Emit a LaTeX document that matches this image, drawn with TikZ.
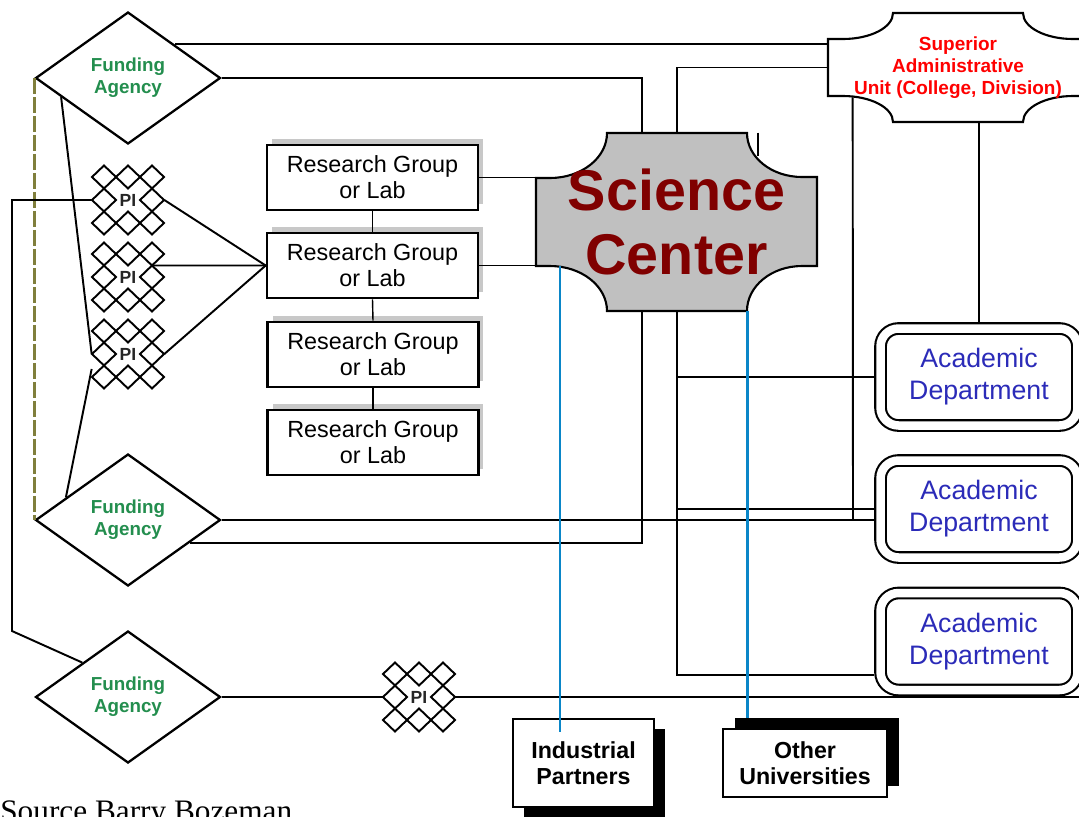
\documentclass[tikz,border=0pt]{standalone}
\usepackage{fontspec}
\setmainfont{Liberation Sans}
\newfontfamily\serifsource{Liberation Serif}
\usetikzlibrary{shapes.geometric, shadows, calc}
\definecolor{agency-green}{HTML}{238E4E}
\definecolor{center-red}{HTML}{800000}
\definecolor{center-gray}{HTML}{C0C0C0}
\definecolor{unit-red}{HTML}{FF0000}
\definecolor{dept-blue}{HTML}{2B2BB8}
\definecolor{link-blue}{HTML}{0A86C8}
\definecolor{olive-dash}{HTML}{807F3C}
\definecolor{shadow-gray}{HTML}{C8C8C8}

\begin{document}
\begin{tikzpicture}[x=0.02cm, y=-0.02cm,
        every node/.style={align=center, inner sep=0pt},
        link/.style={line width=1.1pt},
        thin link/.style={line width=0.8pt},
        feed/.style={line width=1.7pt, draw=link-blue},
        lattice/.style={line width=1.1pt},
        agency/.style={diamond, draw, line width=1.3pt, fill=white, aspect=1.4,
            minimum width=3.7cm, minimum height=2.64cm, text=agency-green,
            font=\bfseries\fontsize{10.7}{12.5}\selectfont},
        labbox/.style={draw, line width=1.5pt, fill=white,
            minimum width=4.22cm, minimum height=1.3cm,
            font=\fontsize{13.3}{14.8}\selectfont,
            general shadow={fill=shadow-gray, shadow xshift=0.1cm, shadow yshift=0.12cm}},
        deptbox/.style={draw, line width=1.2pt, double, double distance=0.17cm,
            rounded corners=0.36cm, minimum width=3.94cm, minimum height=1.94cm,
            outer sep=0.127cm, text=dept-blue,
            font=\fontsize{15.2}{18.2}\selectfont},
        partnerbox/.style={draw, line width=1.3pt, fill=white,
            font=\bfseries\fontsize{13.2}{14.8}\selectfont},
        pitext/.style={minimum width=1.44cm, minimum height=1.38cm, text=black!85,
            font=\bfseries\fontsize{10}{12}\selectfont}]
      \useasboundingbox (0,0) rectangle (1079,816);
      \clip (0,0) rectangle (1079,816);

      % funding agencies
      \node[agency] (fa1) at (128,78) {Funding\\Agency};
      \node[agency] (fa2) at (128,520) {Funding\\Agency};
      \node[agency] (fa3) at (128,697) {Funding\\Agency};

      % principal investigators
      \foreach \n/\cx/\cy in {pi1/128/200, pi2/128/277, pi3/128/354, pi4/419/697} {
        \node[pitext] (\n) at (\cx,\cy) {PI};
        \foreach \dx/\dy in {-1/-1, 0/-1, 1/-1, -1/0, 1/0, -1/1, 0/1, 1/1}
          \draw[lattice] ({\cx+24*\dx},{\cy+23*\dy}) +(-12,0) -- +(0,-11.5)
                -- +(12,0) -- +(0,11.5) -- cycle;
      }

      % research groups
      \node[labbox] (rg1) at (372.5,177.5) {Research Group\\or Lab};
      \node[labbox] (rg2) at (372.5,265.5) {Research Group\\or Lab};
      \node[labbox] (rg3) at (373,354.5) {Research Group\\or Lab};
      \node[labbox] (rg4) at (373,442.5) {Research Group\\or Lab};

      % science center
      \draw[line width=1.2pt, fill=center-gray]
            (607,133) -- (747,133)
            .. controls (747,157.3) and (771.6,177) .. (802,177)
            -- (817,177) -- (817,266) -- (802,266)
            .. controls (771.6,266) and (747,286.1) .. (747,311)
            -- (607,311)
            .. controls (607,286.1) and (581.5,266) .. (550,266)
            -- (536,266) -- (536,178) -- (550,178)
            .. controls (581.5,178) and (607,157.9) .. (607,133) -- cycle;
      \node[minimum width=5.62cm, minimum height=3.56cm, text=center-red,
            font=\bfseries\fontsize{32.7}{36.4}\selectfont]
            (sc) at (676.5,222) {Science\\Center};

      % superior administrative unit
      \draw[line width=1.2pt, fill=white]
            (828,39) -- (843,39)
            .. controls (870.6,39) and (893,27.4) .. (893,13)
            -- (1023,13)
            .. controls (1023,27.4) and (1045.4,39) .. (1073,39)
            -- (1088,39) -- (1088,96) -- (1073,96)
            .. controls (1045.4,96) and (1023,107.6) .. (1023,122)
            -- (893,122)
            .. controls (893,107.6) and (870.6,96) .. (843,96)
            -- (828,96) -- cycle;
      \node[minimum width=5.2cm, minimum height=2.18cm, text=unit-red,
            font=\bfseries\fontsize{10.8}{12.5}\selectfont]
            (sau) at (958,67.5) {Superior\\Administrative\\Unit (College, Division)};

      % academic departments
      \node[deptbox] (ad1) at (979,377) {Academic\\Department};
      \node[deptbox] (ad2) at (979,509) {Academic\\Department};
      \node[deptbox] (ad3) at (979,641.5) {Academic\\Department};

      % outside partners
      \node[partnerbox, minimum width=2.82cm, minimum height=1.76cm,
            general shadow={fill=black, shadow xshift=0.22cm, shadow yshift=-0.2cm}]
            (ip) at (583.5,763) {Industrial\\Partners};
      \node[partnerbox, minimum width=3.28cm, minimum height=1.36cm,
            general shadow={fill=black, shadow xshift=0.24cm, shadow yshift=0.22cm}]
            (ou) at (805,763) {Other\\Universities};
      \coordinate (ipfoot) at (560,732);
      \coordinate (oufoot) at (747,718);

      \node[anchor=base west, font=\serifsource\fontsize{17.8}{20}\selectfont]
            (src) at (0,821) {Source Barry Bozeman};

      % connectors
      \draw[line width=1.7pt, draw=olive-dash, dash pattern=on 0.32cm off 0.06cm]
            (fa1.west) -- (fa2.west);
      \draw[link] (fa1.196) -- (pi3.west);
      \draw[link] (fa2.160) -- ($(pi3.west)+(0,15)$);
      \draw[link] (pi1.west) -| (12,631) -- (fa3.143);
      \draw[link] (pi1.east) -- (rg2.west);
      \draw[link] ($(pi2.center)+(24,-11.5)$) -- (rg2.west);
      \draw[link] (pi3.east) -- (rg2.west);
      \draw[thin link] (rg1.south) -- (rg2.north);
      \draw[thin link] (rg2.south) -- (rg3.north);
      \draw[thin link] (rg3.south) -- (rg4.north);
      \draw[link] (rg1.east) -- (rg1.east -| sc.west);
      \draw[link] (rg2.east) -- (rg2.east -| sc.west);
      \draw[link] (fa1.north east) -- (fa1.north east -| sau.west);
      \draw[link] (fa1.east) -| (sc.north -| 642,0);
      \draw[link] (fa2.-20) -| (sc.south -| 642,0);
      \draw[link] (fa2.east) -- (fa2.east -| ad2.west);
      \draw[link] ([shift={(25,-25)}]sau.south west) -- (fa2.east -| 853,0);
      \draw[thin link] (sau.west) -| (sc.north -| 677,0);
      \draw[thin link] (sc.south -| 677,0) |- (ad3.west |- 0,675);
      \draw[thin link] (ad1.west -| 677,0) -- (ad1.west);
      \draw[thin link] (ad2.west -| 677,0) -- (ad2.west);
      \draw[thin link] (sc.north -| 758,0) -- ++(0,23);
      \draw[link] (ad1.north |- sau.south) -- (ad1.north);
      \draw[link] (fa3.east) -- (pi4.west);
      \draw[link] (pi4.east) -- (pi4.east -| 1079,0);
      \draw[feed] (rg2.east -| ipfoot) -- (ipfoot);
      \draw[feed] (sc.south -| oufoot) -- (oufoot);
    \end{tikzpicture}
\end{document}
